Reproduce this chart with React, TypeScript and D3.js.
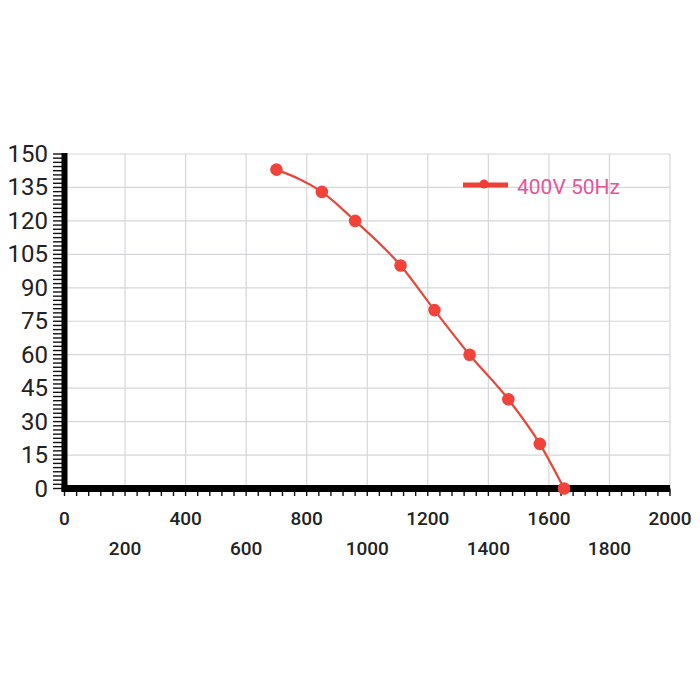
import React, { useEffect, useRef } from 'react';
import * as d3 from 'd3';

// airflow (m3/h) vs pressure (Pa)
const flowValues = [700, 850, 960, 1110, 1222, 1338, 1466, 1570, 1650];
const pressureValues = [143, 133, 120, 100, 80, 60, 40, 20, 0];
const seriesName = '400V 50Hz';

const xTicks = [0, 200, 400, 600, 800, 1000, 1200, 1400, 1600, 1800, 2000];
const yTicks = [0, 15, 30, 45, 60, 75, 90, 105, 120, 135, 150];

const App: React.FC = () => {
    const svgRef = useRef<SVGSVGElement>(null);

    useEffect(() => {
        if (!svgRef.current) return;

        const svg = d3.select(svgRef.current);
        svg.selectAll('*').remove();

        const left = 64.5;
        const right = 670;
        const top = 154;
        const bottom = 488.5;

        const x = d3.scaleLinear().domain([0, 2000]).range([left, right]);
        const y = d3.scaleLinear().domain([0, 150]).range([bottom, top]);

        svg.append('rect')
            .attr('width', 700)
            .attr('height', 700)
            .attr('fill', '#ffffff');

        // grid
        const grid = svg.append('g');
        grid.selectAll('line.h')
            .data(yTicks)
            .join('line')
            .attr('x1', left)
            .attr('x2', right)
            .attr('y1', (d: number) => y(d))
            .attr('y2', (d: number) => y(d))
            .attr('stroke', '#d6d6da')
            .attr('stroke-width', 1.2);
        grid.selectAll('line.v')
            .data(xTicks)
            .join('line')
            .attr('x1', (d: number) => x(d))
            .attr('x2', (d: number) => x(d))
            .attr('y1', top)
            .attr('y2', bottom)
            .attr('stroke', '#d6d6da')
            .attr('stroke-width', 1.2);

        // minor ticks
        const yMinor = d3.range(0, 150.001, 15 / 8);
        svg.append('g').selectAll('line')
            .data(yMinor)
            .join('line')
            .attr('x1', 53)
            .attr('x2', left)
            .attr('y1', (d: number) => y(d))
            .attr('y2', (d: number) => y(d))
            .attr('stroke', '#111')
            .attr('stroke-width', 1.4);

        const xMinor = d3.range(0, 2000.001, 40);
        svg.append('g').selectAll('line')
            .data(xMinor)
            .join('line')
            .attr('x1', (d: number) => x(d))
            .attr('x2', (d: number) => x(d))
            .attr('y1', bottom)
            .attr('y2', 496)
            .attr('stroke', '#111')
            .attr('stroke-width', 1.4);

        // thick axes
        svg.append('line')
            .attr('x1', left)
            .attr('x2', left)
            .attr('y1', top - 1)
            .attr('y2', bottom + 3)
            .attr('stroke', '#000')
            .attr('stroke-width', 6);
        svg.append('line')
            .attr('x1', left - 3)
            .attr('x2', right)
            .attr('y1', bottom)
            .attr('y2', bottom)
            .attr('stroke', '#000')
            .attr('stroke-width', 7);

        // y labels
        svg.append('g').selectAll('text')
            .data(yTicks)
            .join('text')
            .attr('x', 48)
            .attr('y', (d: number) => y(d))
            .attr('text-anchor', 'end')
            .attr('dominant-baseline', 'central')
            .attr('font-family', 'Roboto, "Liberation Sans", sans-serif')
            .attr('font-size', '24px')
            .attr('fill', '#222')
            .text((d: number) => String(d));

        // x labels, alternating rows
        svg.append('g').selectAll('text')
            .data(xTicks)
            .join('text')
            .attr('x', (d: number) => x(d))
            .attr('y', (d: number, i: number) => (i % 2 === 0 ? 525 : 555))
            .attr('text-anchor', 'middle')
            .attr('font-family', 'Roboto, "Liberation Sans", sans-serif')
            .attr('font-weight', 500)
            .attr('font-size', '19px')
            .attr('fill', '#222')
            .text((d: number) => String(d));

        // curve
        const points = flowValues.map((f, i) => ({ x: x(f), y: y(pressureValues[i]) }));
        const lineGenerator = d3.line<{ x: number; y: number }>()
            .x((d: { x: number; y: number }) => d.x)
            .y((d: { x: number; y: number }) => d.y)
            .curve(d3.curveMonotoneX);

        svg.append('path')
            .datum(points)
            .attr('d', lineGenerator)
            .attr('fill', 'none')
            .attr('stroke', '#e4483c')
            .attr('stroke-width', 2.2);

        svg.append('g').selectAll('circle')
            .data(points)
            .join('circle')
            .attr('cx', (d: { x: number }) => d.x)
            .attr('cy', (d: { y: number }) => d.y)
            .attr('r', 6.3)
            .attr('fill', '#f2433a');

        // legend
        const legend = svg.append('g');
        legend.append('line')
            .attr('x1', 463)
            .attr('x2', 508)
            .attr('y1', 185)
            .attr('y2', 185)
            .attr('stroke', '#ee4037')
            .attr('stroke-width', 5);
        legend.append('circle')
            .attr('cx', 484)
            .attr('cy', 184)
            .attr('r', 4.5)
            .attr('fill', '#ee4037');
        legend.append('text')
            .attr('x', 517)
            .attr('y', 187)
            .attr('dominant-baseline', 'central')
            .attr('font-family', 'Roboto, "Liberation Sans", sans-serif')
            .attr('font-size', '21px')
            .attr('fill', '#e4559b')
            .text(seriesName);
    }, []);

    return (
        <svg
            ref={svgRef}
            width={700}
            height={700}
            style={{ position: 'absolute', left: 0, top: 0 }}
        ></svg>
    );
};

export default App;
